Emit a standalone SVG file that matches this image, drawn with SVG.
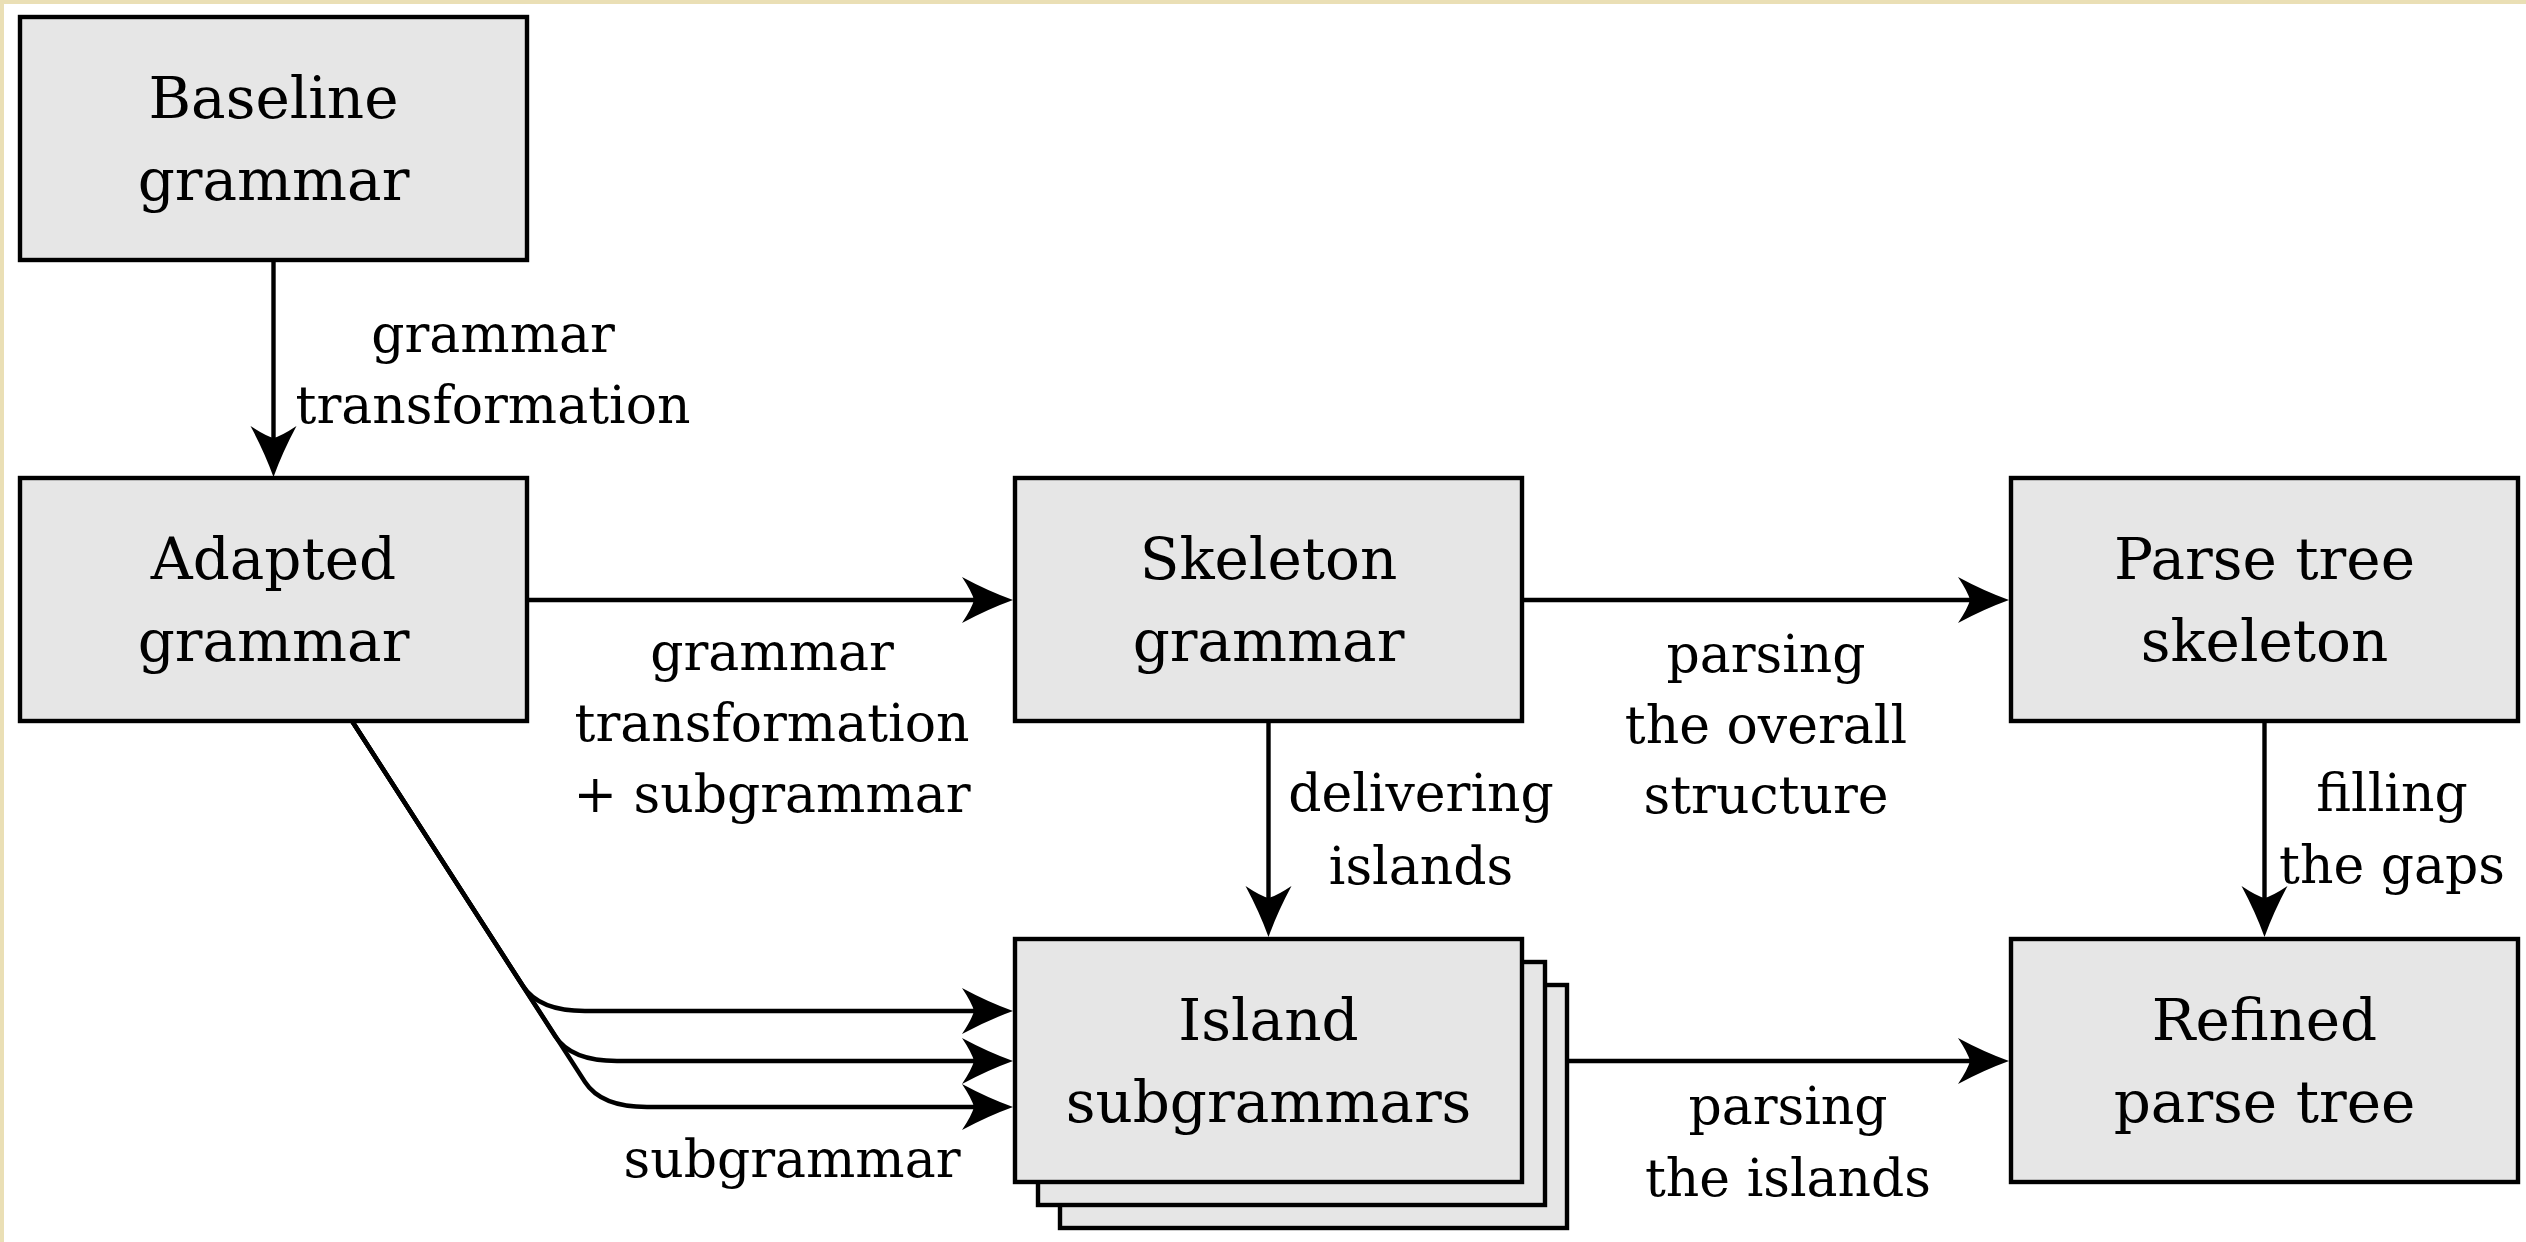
<svg xmlns="http://www.w3.org/2000/svg" width="2526" height="1242" viewBox="0 0 2526 1242">
<style>
.box{fill:#e6e6e6;stroke:#000;stroke-width:4.4}
.nt{font-family:"DejaVu Serif","Liberation Serif",serif;font-size:58px;text-anchor:middle;fill:#000}
.lt{font-family:"DejaVu Serif","Liberation Serif",serif;font-size:52px;text-anchor:middle;fill:#000}
.edge{fill:none;stroke:#000;stroke-width:4.4;marker-end:url(#ah)}
</style>
<defs>
<marker id="ah" markerUnits="userSpaceOnUse" markerWidth="80" markerHeight="80" refX="0" refY="0" orient="auto" overflow="visible">
<path d="M20,0 Q-5,-9 -31,-23 Q-21,-8 -19,0 Q-21,8 -31,23 Q-5,9 20,0 Z" fill="#000"/>
</marker>
</defs>
<rect x="0" y="0" width="2526" height="1242" fill="#fff"/>
<rect x="0" y="0" width="2526" height="4" fill="#eadfb5"/>
<rect x="0" y="0" width="4" height="1242" fill="#eadfb5"/>

<g id="connectors">
<path class="edge" d="M273.5,260 V457"/>
<path class="edge" d="M527,600 H993"/>
<path class="edge" d="M1522,600 H1989"/>
<path class="edge" d="M1268.5,721 V917"/>
<path class="edge" d="M2264.5,721 V917"/>
<path class="edge" d="M1567,1061 H1989"/>
<path class="edge" d="M352,721 L523,986 Q539,1011 585,1011 H993"/>
<path class="edge" d="M352,721 L555,1036 Q571,1061 617,1061 H993"/>
<path class="edge" d="M352,721 L585,1082 Q601,1107 647,1107 H993"/>
</g>

<g id="labels">
<text class="lt" x="493" y="352">grammar</text>
<text class="lt" x="493" y="423">transformation</text>
<text class="lt" x="772" y="670">grammar</text>
<text class="lt" x="772" y="741">transformation</text>
<text class="lt" x="772" y="812">+ subgrammar</text>
<text class="lt" x="792" y="1177">subgrammar</text>
<text class="lt" x="1421" y="811">delivering</text>
<text class="lt" x="1421" y="884">islands</text>
<text class="lt" x="1766" y="672">parsing</text>
<text class="lt" x="1766" y="743">the overall</text>
<text class="lt" x="1766" y="813">structure</text>
<text class="lt" x="2392" y="811">filling</text>
<text class="lt" x="2392" y="883">the gaps</text>
<text class="lt" x="1788" y="1124">parsing</text>
<text class="lt" x="1788" y="1196">the islands</text>
</g>

<g id="baseline">
<rect class="box" x="20" y="17" width="507" height="243"/>
<text class="nt" x="273.5" y="118">Baseline</text>
<text class="nt" x="273.5" y="200">grammar</text>
</g>
<g id="adapted">
<rect class="box" x="20" y="478" width="507" height="243"/>
<text class="nt" x="273.5" y="579">Adapted</text>
<text class="nt" x="273.5" y="661">grammar</text>
</g>
<g id="skeleton">
<rect class="box" x="1015" y="478" width="507" height="243"/>
<text class="nt" x="1268.5" y="579">Skeleton</text>
<text class="nt" x="1268.5" y="661">grammar</text>
</g>
<g id="parsetree">
<rect class="box" x="2011" y="478" width="507" height="243"/>
<text class="nt" x="2264.5" y="579">Parse tree</text>
<text class="nt" x="2264.5" y="661">skeleton</text>
</g>
<g id="island">
<rect class="box" x="1060" y="985" width="507" height="243"/>
<rect class="box" x="1038" y="962" width="507" height="243"/>
<rect class="box" x="1015" y="939" width="507" height="243"/>
<text class="nt" x="1268.5" y="1040">Island</text>
<text class="nt" x="1268.5" y="1122">subgrammars</text>
</g>
<g id="refined">
<rect class="box" x="2011" y="939" width="507" height="243"/>
<text class="nt" x="2264.5" y="1040">Refined</text>
<text class="nt" x="2264.5" y="1122">parse tree</text>
</g>
</svg>
